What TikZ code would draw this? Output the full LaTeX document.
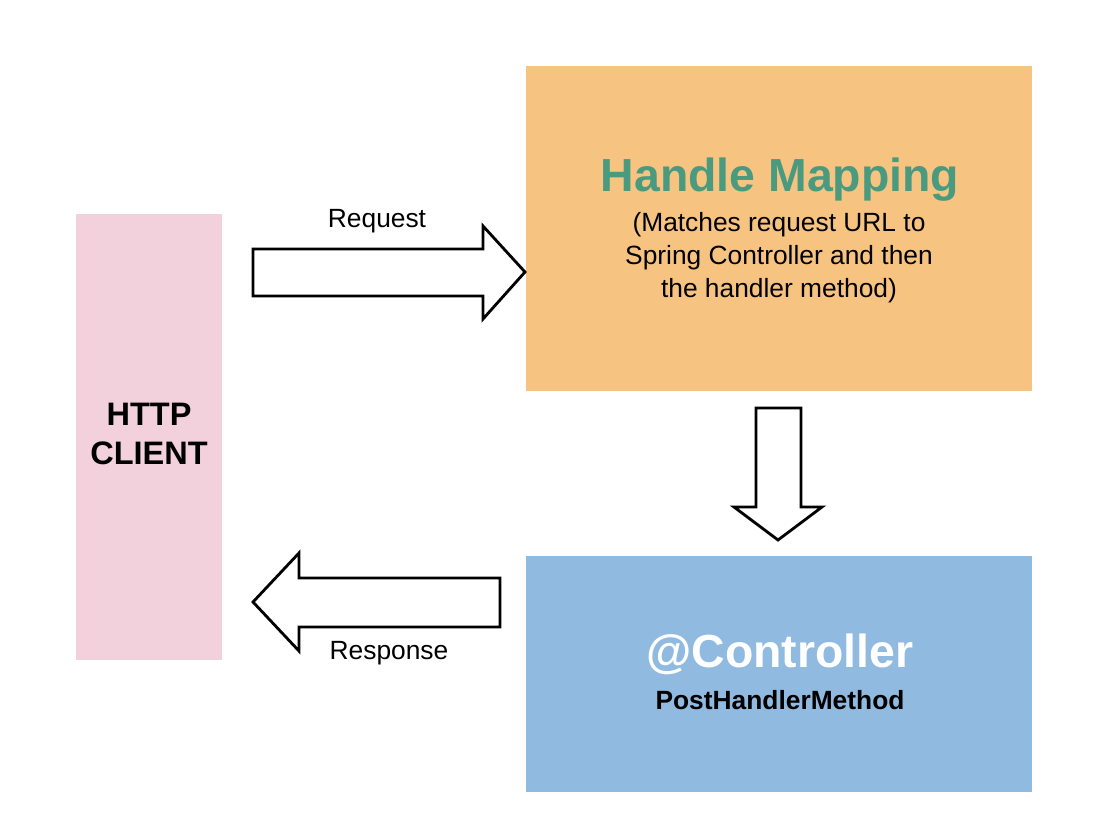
\documentclass[tikz,border=0pt]{standalone}
\usepackage{fontspec}
\setmainfont{Liberation Sans}
\usepackage{xcolor}
\usepackage{tikz}
\usetikzlibrary{positioning}

\definecolor{clientpink}{HTML}{F2D1DC}
\definecolor{maporange}{HTML}{F7C381}
\definecolor{ctrlblue}{HTML}{90BADF}
\definecolor{titlegreen}{HTML}{4A9A7F}

\begin{document}
\begin{tikzpicture}[
  x=0.02cm, y=-0.02cm,
  box/.style={rectangle,draw=none,inner sep=0pt},
  label/.style={font=\fontsize{15}{18}\selectfont,inner sep=0pt},
  blockarrow/.style={draw=black,fill=white,line width=1.6pt,line join=miter}
]
\useasboundingbox (0,0) rectangle (1096,828);

% boxes
\node (client) [box, fill=clientpink, minimum width=2.92cm, minimum height=8.92cm] at (149,437) {};
\node (map)    [box, fill=maporange,  minimum width=10.12cm, minimum height=6.5cm] at (779,228.5) {};
\node (ctrl)   [box, fill=ctrlblue,   minimum width=10.12cm, minimum height=4.72cm] at (779,674) {};

% texts in the boxes
\node (clienttxt) [label, align=center, font=\fontsize{18.5}{22.7}\selectfont\bfseries] at (149,434) {HTTP\\CLIENT};
\node (maptitle)  [label, text=titlegreen, font=\fontsize{26.4}{30}\selectfont\bfseries] at (780,180) {Handle Mapping};
\node (mapdesc)   [label, align=center, font=\fontsize{15}{18.7}\selectfont] at (779,258)
  {(Matches request URL to\\Spring Controller and then\\the handler method)};
\node (ctrltitle) [label, text=white, font=\fontsize{26.4}{30}\selectfont\bfseries] at (780,654) {@Controller};
\node (ctrlmeth)  [label, font=\fontsize{15}{18}\selectfont\bfseries] at (780,700) {PostHandlerMethod};

% block arrows
\draw[blockarrow] (253,249) -- (483,249) -- (483,226) -- (525,272) -- (483,319) -- (483,296) -- (253,296) -- cycle;
\draw[blockarrow] (756,408) -- (801,408) -- (801,507) -- (822,507) -- (778,540) -- (734,507) -- (756,507) -- cycle;
\draw[blockarrow] (500,578) -- (299,578) -- (299,553) -- (253,602) -- (299,651) -- (299,627) -- (500,627) -- cycle;

\node (req)  [label] at (377,221) {Request};
\node (resp) [label] at (389,653) {Response};
\end{tikzpicture}
\end{document}
